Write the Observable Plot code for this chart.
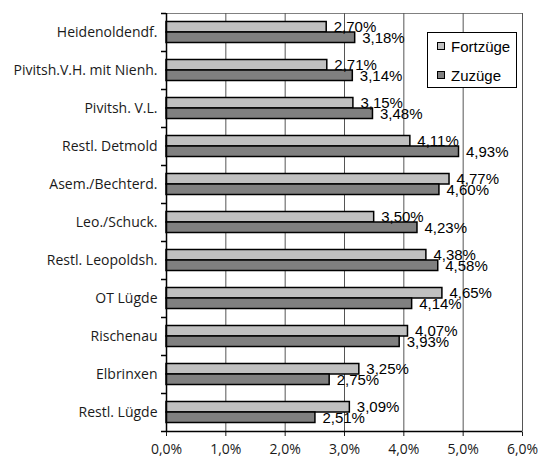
<!DOCTYPE html>
<html><head><meta charset="utf-8">
<script src="https://cdn.jsdelivr.net/npm/d3@7"></script>
<script src="https://cdn.jsdelivr.net/npm/@observablehq/plot@0.6"></script>
<style>
body{margin:0;background:#fff}
#wrap{position:relative;width:545px;height:459px}
#legend{position:absolute;left:427px;top:32px;width:88px;height:54px;border:1px solid #000;background:#fff;font-family:"Liberation Sans",Arial,sans-serif;font-size:15px;color:#000}
.item{position:absolute;left:9px;height:18px;display:flex;align-items:center;white-space:nowrap}
.sw{width:6px;height:6px;border:1px solid #000;margin-right:6px}
</style></head><body><div id="wrap"><div id="legend"></div></div>
<script>
const categories = ["Heidenoldendf.", "Pivitsh.V.H. mit Nienh.", "Pivitsh. V.L.", "Restl. Detmold", "Asem./Bechterd.", "Leo./Schuck.", "Restl. Leopoldsh.", "OT Lügde", "Rischenau", "Elbrinxen", "Restl. Lügde"];
const fortzuege = [2.70, 2.71, 3.15, 4.11, 4.77, 3.50, 4.38, 4.65, 4.07, 3.25, 3.09];
const zuzuege = [3.18, 3.14, 3.48, 4.93, 4.60, 4.23, 4.58, 4.14, 3.93, 2.75, 2.51];
const seriesNames = ["Fortzüge", "Zuzüge"];
const seriesColors = ["#c0c0c0", "#808080"];
const xTicks = [0, 1, 2, 3, 4, 5, 6];

const W = 545, H = 459, mt = 13, mb = 28, ml = 166, mr = 23;
const bw = (H - mt - mb) / categories.length;
const rowsF = categories.map((c, i) => ({cat: c, value: fortzuege[i]}));
const rowsZ = categories.map((c, i) => ({cat: c, value: zuzuege[i]}));
const fmt = d => d.value.toFixed(2).replace(".", ",") + "%";
const last = categories[categories.length - 1];

const chart = Plot.plot({
  width: W, height: H,
  marginTop: mt, marginBottom: mb, marginLeft: ml, marginRight: mr,
  style: {fontFamily: '"Open Sans", sans-serif', fontSize: "14px", background: "white", color: "#1a1a1a"},
  x: {domain: [0, 6], ticks: xTicks, tickFormat: d => d.toFixed(1).replace(".", ",") + "%", tickSize: 5, tickPadding: 8, label: null},
  y: {domain: categories, padding: 0, tickSize: 0, tickPadding: 9, label: null},
  marks: [
    Plot.frame({stroke: "#808080"}),
    Plot.ruleX(xTicks.slice(1), {stroke: "#555555"}),
    Plot.barX(rowsF, {x: "value", y: "cat", fill: seriesColors[0], stroke: "#000", strokeWidth: 1.5, insetTop: 8.5, insetBottom: 19}),
    Plot.barX(rowsZ, {x: "value", y: "cat", fill: seriesColors[1], stroke: "#000", strokeWidth: 1.5, insetTop: 19, insetBottom: 8.5}),
    Plot.ruleX([0], {stroke: "#000", strokeWidth: 1.5}),
    Plot.ruleY([last], {y: d => d, x1: 0, x2: 6, dy: bw / 2, stroke: "#000", strokeWidth: 1.5}),
    Plot.ruleY(categories, {y: d => d, x1: 0, x2: 0, insetLeft: -5, dy: -bw / 2, stroke: "#000", strokeWidth: 1.5}),
    Plot.ruleY([last], {y: d => d, x1: 0, x2: 0, insetLeft: -5, dy: bw / 2, stroke: "#000", strokeWidth: 1.5}),
    Plot.text(rowsF, {x: "value", y: "cat", text: fmt, dx: 7, dy: -5.25, textAnchor: "start", fontFamily: '"Liberation Sans", Arial, sans-serif', fontSize: 15, fill: "#000"}),
    Plot.text(rowsZ, {x: "value", y: "cat", text: fmt, dx: 7, dy: 5.25, textAnchor: "start", fontFamily: '"Liberation Sans", Arial, sans-serif', fontSize: 15, fill: "#000"})
  ]
});
document.getElementById("wrap").prepend(chart);

const legend = document.getElementById("legend");
seriesNames.forEach((name, i) => {
  const item = document.createElement("div");
  item.className = "item";
  item.style.top = (4 + i * 29) + "px";
  const sw = document.createElement("span");
  sw.className = "sw";
  sw.style.background = seriesColors[i];
  item.appendChild(sw);
  item.appendChild(document.createTextNode(name));
  legend.appendChild(item);
});
</script>
</body></html>
